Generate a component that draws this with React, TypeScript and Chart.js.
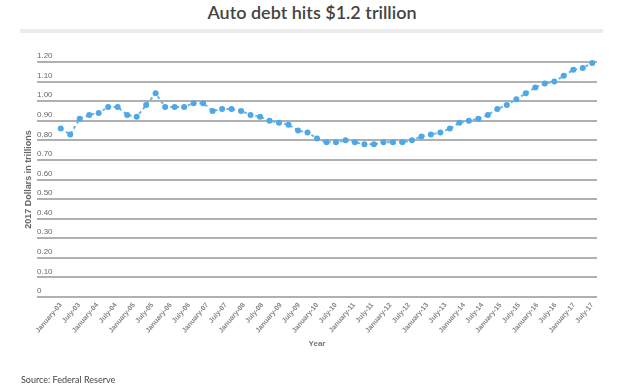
import React, { useEffect, useRef } from "react";
import { Chart, registerables } from "chart.js";

Chart.register(...registerables);

// Quarterly auto debt (2017 dollars, trillions), 2003 Q1 .. 2017 Q1
const debt: number[] = [
  0.86, 0.83, 0.91, 0.93, 0.94, 0.97, 0.97, 0.93, 0.92, 0.98,
  1.04, 0.97, 0.97, 0.97, 0.99, 0.99, 0.95, 0.96, 0.96, 0.95,
  0.93, 0.92, 0.90, 0.89, 0.88, 0.85, 0.84, 0.81, 0.79, 0.79,
  0.80, 0.79, 0.78, 0.78, 0.79, 0.79, 0.79, 0.80, 0.82, 0.83,
  0.84, 0.86, 0.89, 0.90, 0.91, 0.93, 0.96, 0.98, 1.01, 1.04,
  1.07, 1.09, 1.10, 1.13, 1.16, 1.17, 1.195,
];

const tickLabels: string[] = [
  "January-03", "July-03", "January-04", "July-04", "January-05", "July-05",
  "January-06", "July-06", "January-07", "July-07", "January-08", "July-08",
  "January-09", "July-09", "January-10", "July-10", "January-11", "July-11",
  "January-12", "July-12", "January-13", "July-13", "January-14", "July-14",
  "January-15", "July-15", "January-16", "July-16", "January-17", "July-17",
];

const titleText = "Auto debt hits $1.2 trillion";
const yTitle = "2017 Dollars in trillions";
const xTitle = "Year";
const sourceText = "Source: Federal Reserve";

const FONT = "'Liberation Sans', Arial, sans-serif";

export default function App() {
  const ref = useRef<HTMLCanvasElement | null>(null);

  useEffect(() => {
    if (!ref.current) return;
    const last = debt.length - 1;
    const chart = new Chart(ref.current, {
      type: "line",
      data: {
        datasets: [
          {
            data: debt.map((v, i) => ({ x: i, y: v })),
            borderColor: "#6ab6ec",
            borderWidth: 2,
            borderDash: [3, 3],
            pointRadius: 3,
            pointBorderWidth: 0,
            pointBackgroundColor: "#4ea8e6",
            tension: 0,
            clip: false as any,
          },
        ],
      },
      options: {
        animation: false,
        responsive: false,
        devicePixelRatio: 1,
        layout: { padding: { top: 62, right: 27, bottom: 37, left: 0 } },
        plugins: { legend: { display: false }, tooltip: { enabled: false }, title: { display: false } },
        scales: {
          x: {
            type: "linear",
            min: -2.5,
            max: last + 0.5,
            grid: { display: false, drawTicks: false },
            border: { display: false },
            afterBuildTicks: (scale: any) => {
              scale.ticks = tickLabels.map((_, i) => ({ value: (i * last) / (tickLabels.length - 1) }));
            },
            afterFit: (scale: any) => {
              scale.height = 56;
            },
            ticks: {
              autoSkip: false,
              minRotation: 50,
              maxRotation: 50,
              padding: 4,
              color: "#858585",
              font: { family: FONT, size: 7, weight: "bold" },
              callback: (_v: any, i: number) => tickLabels[i],
            },
            title: {
              display: true,
              text: xTitle,
              color: "#777",
              font: { family: FONT, size: 8, weight: "bold" },
              padding: { top: 4, bottom: 4 },
            },
          },
          y: {
            min: 0,
            max: 1.2,
            grid: { color: "#b0b0b0", lineWidth: 2, drawTicks: false },
            border: { display: false },
            afterFit: (scale: any) => {
              scale.width = 37;
            },
            ticks: {
              stepSize: 0.1,
              mirror: true,
              padding: 0,
              labelOffset: -6,
              color: "#666",
              font: { family: FONT, size: 8 },
              callback: (v: any) => (Number(v) === 0 ? "0" : Number(v).toFixed(2)),
            },
            title: {
              display: true,
              text: yTitle,
              color: "#666",
              font: { family: FONT, size: 9, weight: "bold" },
              padding: { top: 23, bottom: 4 },
            },
          },
        },
      },
    } as any);
    return () => chart.destroy();
  }, []);

  return (
    <div style={{ position: "fixed", left: 0, top: 0, width: 624, height: 390, background: "#fff", overflow: "hidden" }}>
      <div
        style={{
          position: "absolute",
          top: 3,
          left: 0,
          width: 624,
          textAlign: "center",
          fontFamily: "Lato, 'Open Sans', sans-serif",
          fontSize: 18,
          lineHeight: "18px",
          color: "#444",
          fontWeight: 600,
        }}
      >
        {titleText}
      </div>
      <div style={{ position: "absolute", left: 20, top: 29, width: 583, height: 4, background: "#ebebeb" }} />
      <canvas ref={ref} width={624} height={390} style={{ position: "absolute", left: 0, top: 0 }} />
      <div
        style={{
          position: "absolute",
          left: 21,
          top: 374,
          fontFamily: "Lato, 'Open Sans', sans-serif",
          fontSize: 9,
          lineHeight: "12px",
          color: "#444",
        }}
      >
        {sourceText}
      </div>
    </div>
  );
}
